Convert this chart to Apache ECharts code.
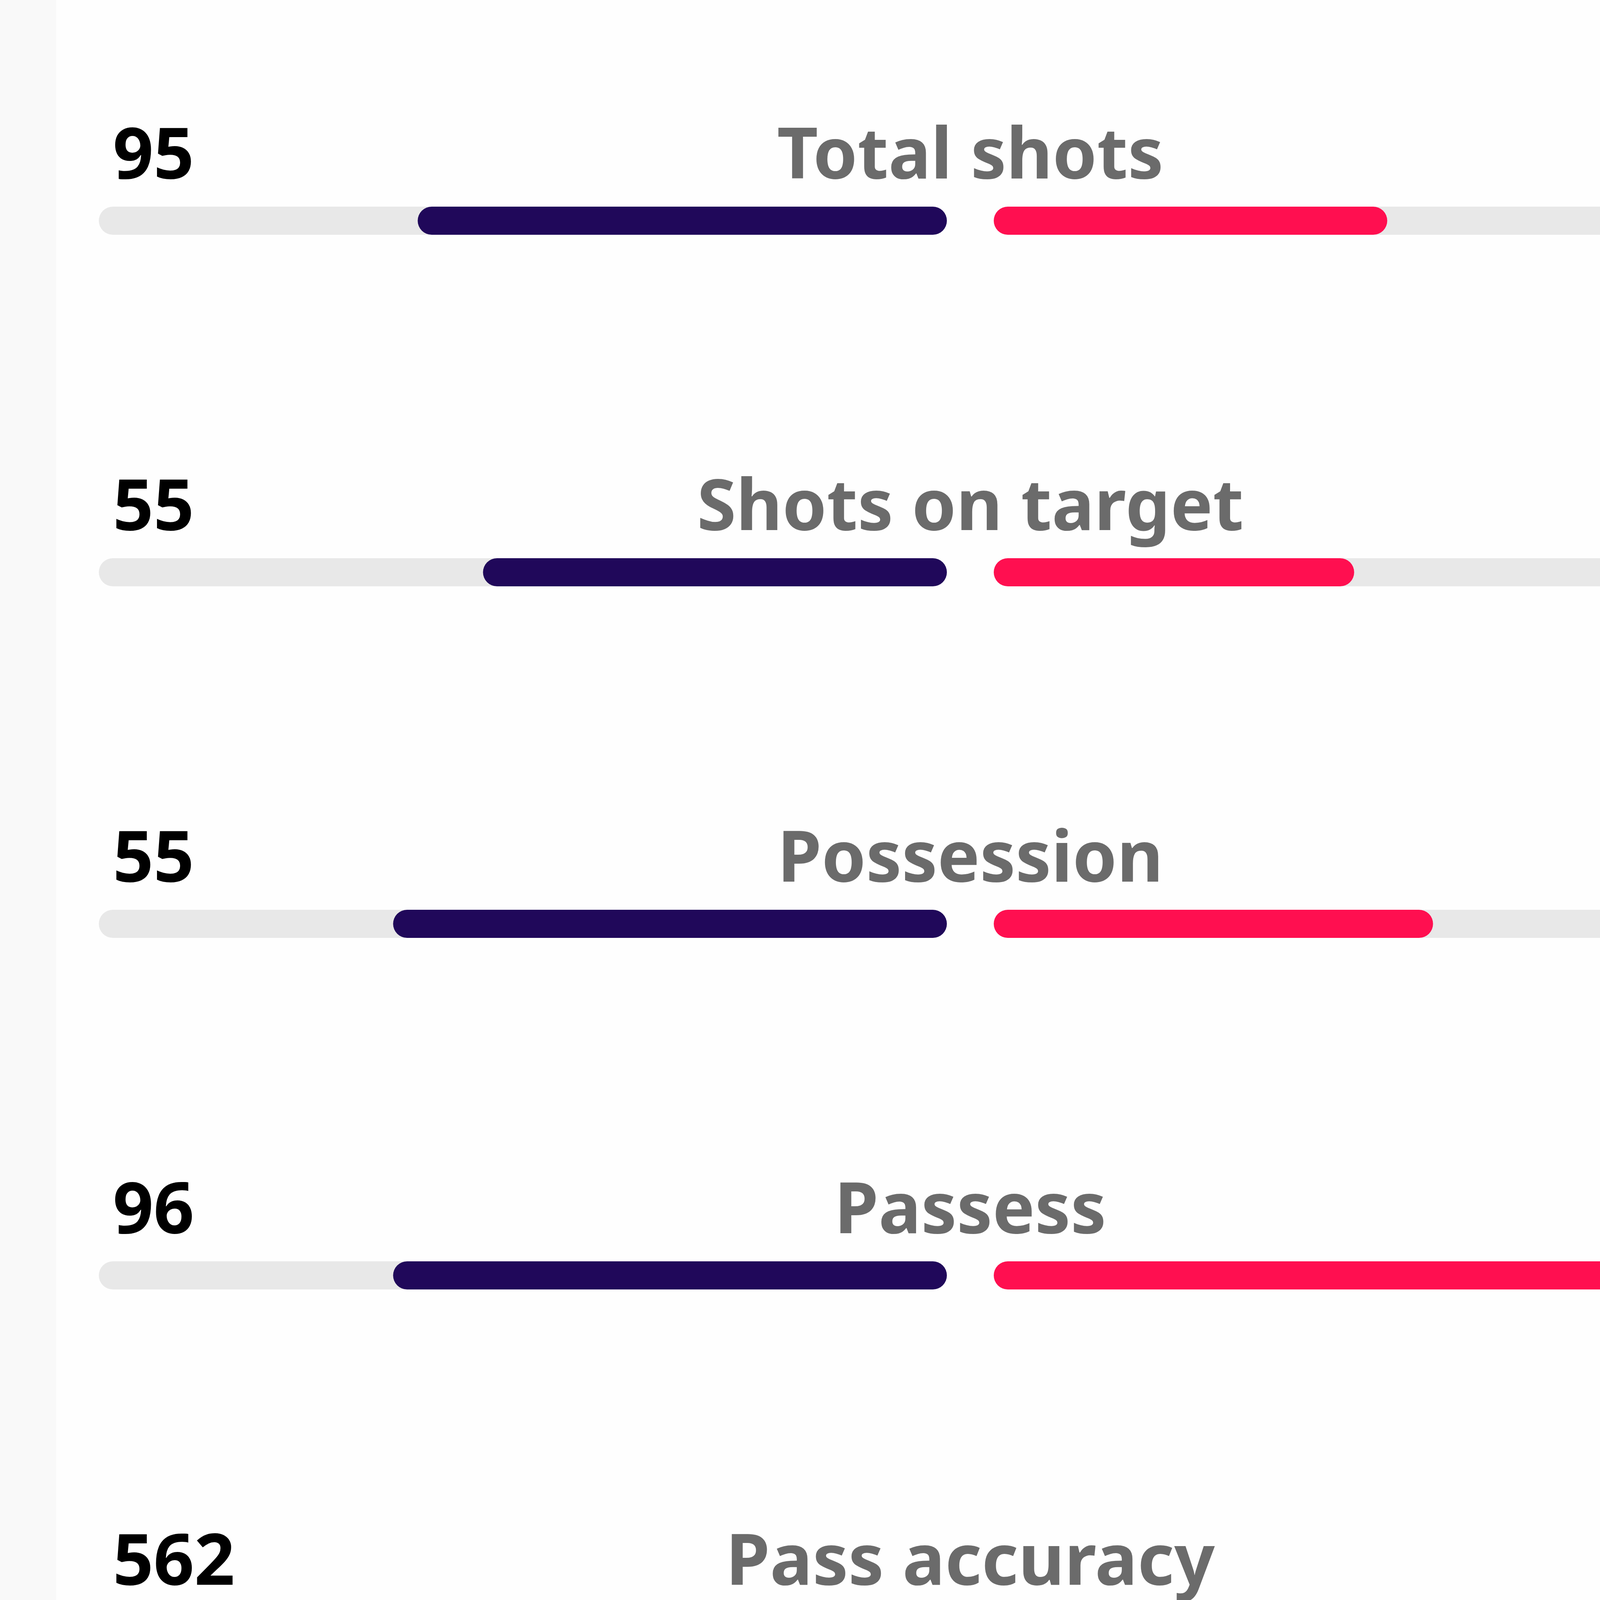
<!DOCTYPE html>
<html>
<head>
<meta charset="utf-8">
<script src="https://cdn.jsdelivr.net/npm/echarts@6/dist/echarts.min.js"></script>
<style>
  html, body { margin: 0; padding: 0; background: #f9f9f9; }
  #chart { width: 4968px; height: 6445px; }
</style>
</head>
<body>
<div id="chart"></div>
<script>
// match stats
var categories = ['Total shots', 'Shots on target', 'Possession', 'Passess', 'Pass accuracy', 'Fouls', 'Yellow card'];
var homeValues = [95, 55, 55, 96, 562, 12, 1];
var awayValues = [85, 45, 45, 123, 659, 25, 3];
// bar fill, percent of the half track
var homeBar = [62.4, 54.7, 65.3, 65.3, 79.5, 31.6, 9.9];
var awayBar = [46.4, 42.5, 51.8, 81.7, 94.6, 49.2, 31.5];

var myChart = echarts.init(document.getElementById('chart'));

var font = 'Noto Sans';
var fs = 182;

var option = {
    backgroundColor: '#f9f9f9',
    animation: false,
    graphic: [{
        type: 'rect',
        z: -10,
        shape: { x: 144, y: -400, width: 4679, height: 6821, r: 250 },
        style: { fill: '#fefefe' }
    }],
    grid: [
        { left: 253, right: 2544, top: 115, bottom: 30 },
        { left: 2544, right: 253, top: 115, bottom: 30 }
    ],
    xAxis: [
        { gridIndex: 0, type: 'value', min: 0, max: 100, inverse: true, show: false },
        { gridIndex: 1, type: 'value', min: 0, max: 100, show: false }
    ],
    yAxis: [
        { gridIndex: 0, type: 'category', data: categories, inverse: true, show: false },
        { gridIndex: 1, type: 'category', data: categories, inverse: true, show: false }
    ],
    series: [
        {
            name: 'home',
            type: 'bar',
            xAxisIndex: 0, yAxisIndex: 0,
            data: homeBar,
            barWidth: 72,
            showBackground: true,
            backgroundStyle: { color: '#e8e8e8', borderRadius: 36 },
            itemStyle: { color: '#20085a', borderRadius: 36 }
        },
        {
            name: 'away',
            type: 'bar',
            xAxisIndex: 1, yAxisIndex: 1,
            data: awayBar,
            barWidth: 72,
            showBackground: true,
            backgroundStyle: { color: '#e8e8e8', borderRadius: 36 },
            itemStyle: { color: '#ff0f50', borderRadius: 36 }
        },
        {
            // home numbers
            type: 'scatter',
            xAxisIndex: 0, yAxisIndex: 0,
            symbolSize: 0,
            silent: true,
            itemStyle: { opacity: 1 },
            data: homeValues.map(function (v, i) { return [100, i]; }),
            label: {
                show: true,
                position: 'inside',
                align: 'left',
                verticalAlign: 'middle',
                offset: [36, -160],
                formatter: function (p) { return homeValues[p.dataIndex]; },
                color: '#000000',
                opacity: 1,
                fontFamily: font,
                fontWeight: 700,
                fontSize: fs
            }
        },
        {
            // away numbers
            type: 'scatter',
            xAxisIndex: 1, yAxisIndex: 1,
            symbolSize: 0,
            silent: true,
            itemStyle: { opacity: 1 },
            data: awayValues.map(function (v, i) {
                return {
                    value: [100, i],
                    label: { offset: [-38, i === categories.length - 1 ? -160 : -340] }
                };
            }),
            label: {
                show: true,
                position: 'inside',
                align: 'right',
                verticalAlign: 'middle',
                formatter: function (p) { return awayValues[p.dataIndex]; },
                color: '#ff0f50',
                opacity: 1,
                fontFamily: font,
                fontWeight: 700,
                fontSize: fs
            }
        },
        {
            // category names
            type: 'scatter',
            xAxisIndex: 0, yAxisIndex: 0,
            symbolSize: 0,
            silent: true,
            itemStyle: { opacity: 1 },
            data: categories.map(function (c, i) { return [0, i]; }),
            label: {
                show: true,
                position: 'inside',
                align: 'center',
                verticalAlign: 'middle',
                offset: [60, -160],
                formatter: function (p) { return categories[p.dataIndex]; },
                color: '#6b6b6b',
                opacity: 1,
                fontFamily: font,
                fontWeight: 700,
                fontSize: fs
            }
        }
    ]
};

myChart.setOption(option);
</script>
</body>
</html>
